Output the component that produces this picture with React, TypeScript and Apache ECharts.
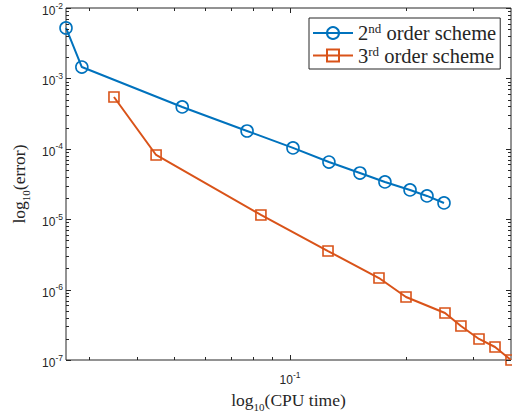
import React, { useEffect, useRef } from "react";
import * as echarts from "echarts";

const seriesNames = ["2nd order scheme", "3rd order scheme"];
const seriesColors = ["#0072BD", "#D95319"];
const cpu2 = [0.0261, 0.0287, 0.0524, 0.0773, 0.1018, 0.1263, 0.1521, 0.1767, 0.2054, 0.2274, 0.2518];
const err2 = [5.2e-3, 1.45e-3, 3.93e-4, 1.79e-4, 1.03e-4, 6.49e-5, 4.53e-5, 3.38e-5, 2.6e-5, 2.14e-5, 1.7e-5];
const cpu3 = [0.0348, 0.0448, 0.084, 0.1256, 0.1705, 0.2005, 0.2533, 0.2787, 0.3106, 0.3419, 0.3763];
const err3 = [5.44e-4, 8.17e-5, 1.15e-5, 3.53e-6, 1.46e-6, 7.85e-7, 4.65e-7, 3.04e-7, 1.99e-7, 1.53e-7, 1.0e-7];

const xRange = [0.0261, 0.3763];
const yRange = [1e-7, 1e-2];
const xMajorTicks = [0.1];
const xMinorTicks = [0.03, 0.04, 0.05, 0.06, 0.07, 0.08, 0.09, 0.2, 0.3];
const yMajorTicks = [1e-7, 1e-6, 1e-5, 1e-4, 1e-3, 1e-2];
const yMinorDecades = [1e-7, 1e-6, 1e-5, 1e-4, 1e-3];
const yMinorMultipliers = [2, 3, 4, 5, 6, 7, 8, 9];

const axisColor = "#262626";
const sansFont = "Liberation Sans";
const serifFont = "Liberation Serif";

const legendLabels: Record<string, string> = {
  "2nd order scheme": "{a|2}{s|nd}{a| order scheme}",
  "3rd order scheme": "{a|3}{s|rd}{a| order scheme}",
};

function powLabel(v: number): string {
  const l = Math.log10(v);
  const e = Math.round(l);
  if (Math.abs(l - e) > 1e-6) return "";
  return `{b|10}{s|${e}}`;
}

const tickRich = {
  b: { fontSize: 12, fontFamily: sansFont, color: axisColor, lineHeight: 20, verticalAlign: "middle" },
  s: { fontSize: 8.5, fontFamily: sansFont, color: axisColor, lineHeight: 20, verticalAlign: "top" },
};

const titleRich = {
  a: { fontSize: 17.5, fontFamily: serifFont, color: axisColor, lineHeight: 24, verticalAlign: "middle" },
  sub: { fontSize: 11, fontFamily: serifFont, color: axisColor, lineHeight: 24, verticalAlign: "bottom" },
};

function tickSeries(data: number[][], dir: "x" | "y") {
  return {
    type: "custom",
    silent: true,
    clip: false,
    z: 5,
    dimensions: ["vx", "vy", "len"],
    encode: { x: 0, y: 1 },
    data,
    renderItem: (params: any, api: any) => {
      const cs = params.coordSys;
      const len = api.value(2);
      const p = api.coord([api.value(0), api.value(1)]);
      const st = { stroke: axisColor, lineWidth: 1 };
      if (dir === "x") {
        const x = Math.round(p[0]) + 0.5;
        return {
          type: "group",
          children: [
            { type: "line", shape: { x1: x, y1: cs.y + cs.height, x2: x, y2: cs.y + cs.height - len }, style: st },
            { type: "line", shape: { x1: x, y1: cs.y, x2: x, y2: cs.y + len }, style: st },
          ],
        };
      }
      const y = Math.round(p[1]) + 0.5;
      return {
        type: "group",
        children: [
          { type: "line", shape: { x1: cs.x, y1: y, x2: cs.x + len, y2: y }, style: st },
          { type: "line", shape: { x1: cs.x + cs.width, y1: y, x2: cs.x + cs.width - len, y2: y }, style: st },
        ],
      };
    },
  };
}

export default function App() {
  const ref = useRef<HTMLDivElement>(null);
  useEffect(() => {
    if (!ref.current) return;
    const chart = echarts.init(ref.current, null, { renderer: "svg" });

    const xTickData = [
      ...xMajorTicks.map((v) => [v, 1e-4, 5]),
      ...xMinorTicks.map((v) => [v, 1e-4, 3]),
    ];
    const yMinor: number[] = [];
    yMinorDecades.forEach((d) => yMinorMultipliers.forEach((m) => yMinor.push(d * m)));
    const yTickData = [
      ...yMajorTicks.map((v) => [0.1, v, 5]),
      ...yMinor.map((v) => [0.1, v, 3]),
    ];

    const lineSeries = [
      { x: cpu2, y: err2, symbol: "circle", size: 12 },
      { x: cpu3, y: err3, symbol: "rect", size: 10 },
    ].map((s, i) => ({
      type: "line",
      name: seriesNames[i],
      data: s.x.map((v, j) => [v, s.y[j]]),
      symbol: s.symbol,
      symbolSize: s.size,
      showSymbol: true,
      clip: false,
      z: 3,
      color: seriesColors[i],
      lineStyle: { color: seriesColors[i], width: 2 },
      itemStyle: { color: "rgba(255,255,255,0)", borderColor: seriesColors[i], borderWidth: 1.6 },
    }));

    chart.setOption({
      animation: false,
      backgroundColor: "#ffffff",
      grid: {
        left: 66,
        top: 8,
        right: 1,
        bottom: 52,
        outerBoundsMode: "none",
        containLabel: false,
        show: true,
        borderColor: axisColor,
        borderWidth: 1,
        backgroundColor: "#ffffff",
      },
      legend: {
        data: seriesNames,
        orient: "vertical",
        left: 309,
        top: 18,
        itemWidth: 40,
        itemHeight: 15,
        itemGap: 1,
        padding: [4, 4, 3, 3],
        borderColor: axisColor,
        borderWidth: 1,
        backgroundColor: "#ffffff",
        formatter: (name: string) => legendLabels[name] || name,
        textStyle: {
          fontFamily: serifFont,
          fontSize: 20,
          color: axisColor,
          rich: {
            a: { fontSize: 20.5, fontFamily: serifFont, color: axisColor, lineHeight: 22, verticalAlign: "middle" },
            s: { fontSize: 13, fontFamily: serifFont, color: axisColor, lineHeight: 22, verticalAlign: "top" },
          },
        },
      },
      xAxis: {
        type: "log",
        logBase: 10,
        min: xRange[0],
        max: xRange[1],
        axisLine: { show: false },
        axisTick: { show: false },
        splitLine: { show: false },
        axisLabel: { formatter: powLabel, rich: tickRich, margin: 10 },
        name: "{a|log}{sub|10}{a|(CPU time)}",
        nameLocation: "middle",
        nameGap: 28,
        nameTextStyle: { rich: titleRich, fontFamily: serifFont },
      },
      yAxis: {
        type: "log",
        logBase: 10,
        min: yRange[0],
        max: yRange[1],
        axisLine: { show: false },
        axisTick: { show: false },
        splitLine: { show: false },
        axisLabel: { formatter: powLabel, rich: tickRich, margin: 3, padding: [6, 0, 0, 0] },
        name: "{a|log}{sub|10}{a|(error)}",
        nameLocation: "middle",
        nameGap: 34,
        nameTextStyle: { rich: titleRich, fontFamily: serifFont },
      },
      series: [...lineSeries, tickSeries(xTickData, "x"), tickSeries(yTickData, "y")],
    });
    return () => chart.dispose();
  }, []);
  return (
    <div
      ref={ref}
      style={{ position: "fixed", left: 0, top: 0, width: 512, height: 412, background: "#fff" }}
    />
  );
}
